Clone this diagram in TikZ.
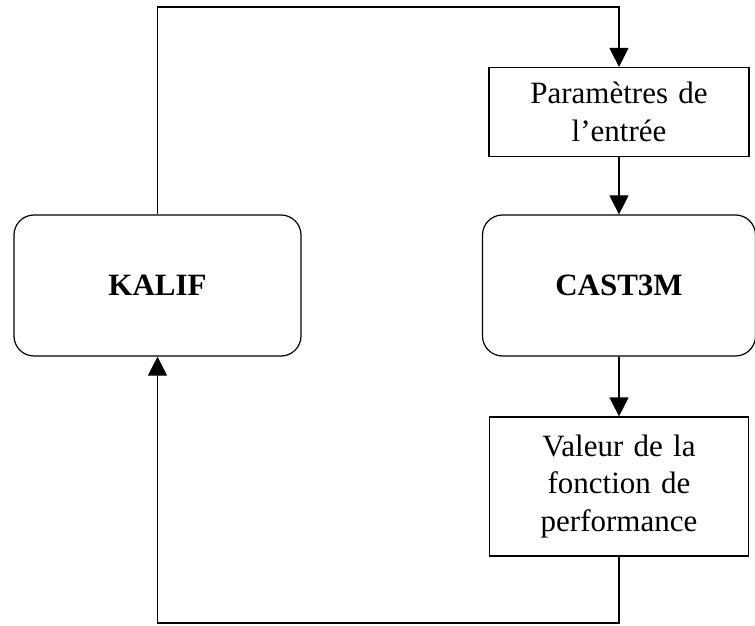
\documentclass[tikz,border=0pt]{standalone}
\usepackage{fontspec}
\setmainfont{Liberation Serif}
\usetikzlibrary{arrows.meta}

\begin{document}
\begin{tikzpicture}[x=1pt, y=1pt, >={Triangle[length=19pt, width=19pt]}, line width=1.2pt,
    every node/.style={font=\fontsize{31}{37.5}\selectfont, align=center, inner sep=0pt},
    roundbox/.style={draw, rounded corners=20pt, font=\fontsize{31}{37.5}\selectfont\bfseries},
    databox/.style={draw, text width=245pt}]
  \useasboundingbox (0,0) rectangle (755,625);
  % left: optimiser
  \node[roundbox, minimum width=287pt, minimum height=141pt] (kalif) at (157.5,339.5) {KALIF};
  % right column: inputs, code, output
  \node[roundbox, minimum width=273pt, minimum height=141pt] (cast) at (619,339.5) {CAST3M};
  \node[databox, minimum width=260pt, minimum height=89pt] (param) at (619,513) {Paramètres de\\l’entrée};
  \node[databox, minimum width=259pt, minimum height=139pt] (valeur) at (619,138.5) {Valeur de la\\fonction de\\performance};
  % loop
  \coordinate (top) at (0,618);
  \coordinate (bottom) at (0,2);
  \draw[->] (kalif.north) -- (kalif.north |- top) -| (param.north);
  \draw[->] (param.south) -- (cast.north);
  \draw[->] (cast.south) -- (valeur.north);
  \draw[->] (valeur.south) -- (valeur.south |- bottom) -| (kalif.south);
\end{tikzpicture}
\end{document}
